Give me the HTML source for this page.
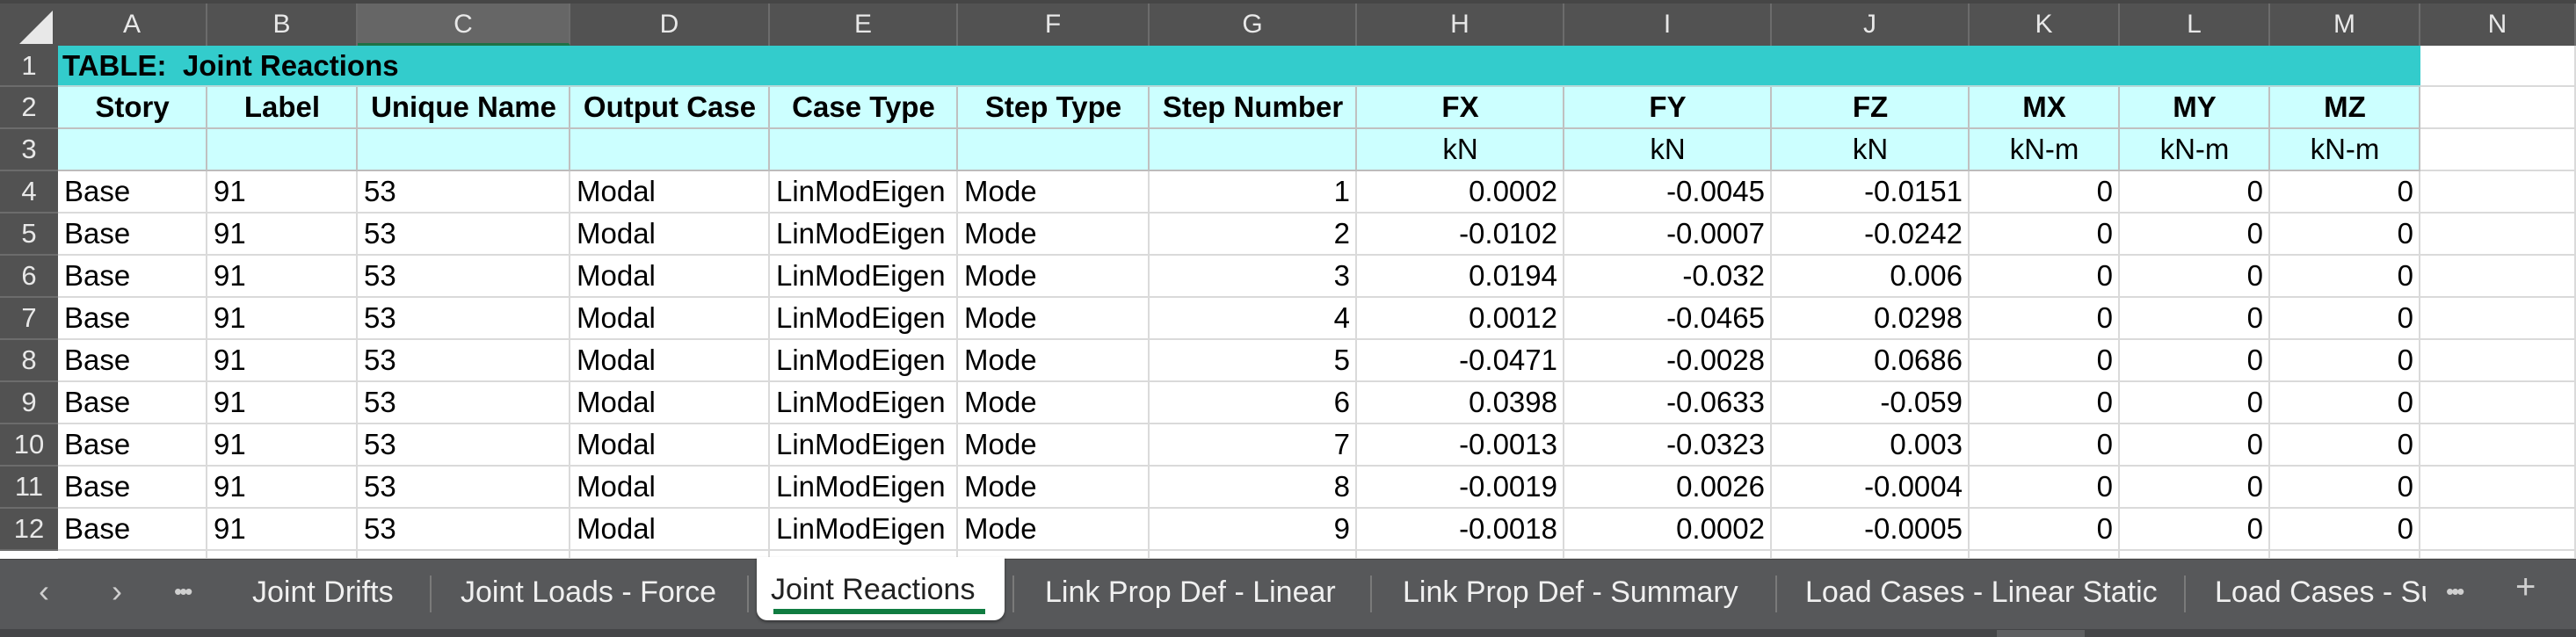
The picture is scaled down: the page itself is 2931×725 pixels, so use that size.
<!DOCTYPE html>
<html><head><meta charset="utf-8">
<style>
body{margin:0;width:2931px;height:725px;overflow:hidden;background:#fff;font-family:"Liberation Sans",sans-serif;position:relative}
.abs{position:absolute;box-sizing:border-box}
.cell{position:absolute;box-sizing:border-box;border-right:2px solid #dadada;border-bottom:2px solid #dadada;font-size:33px;line-height:46px;white-space:pre;overflow:hidden;padding:0 6px 0 7px;color:#000}
.colh{position:absolute;box-sizing:border-box;background:#525252;color:#e8e8e8;font-size:30px;text-align:center;line-height:48px;border-right:2px solid #6c6c6c;top:4px;height:48px}
.rowh{position:absolute;box-sizing:border-box;background:#525252;color:#e8e8e8;font-size:31px;text-align:center;left:0;width:66px;border-bottom:2px solid #6c6c6c;line-height:46px}
.tab{position:absolute;color:#f0f0f0;font-size:34px;top:655px;white-space:nowrap}
.sep{position:absolute;top:655px;width:2px;height:42px;background:#7a7a7a}
</style></head><body>
<div class="abs" style="left:0;top:0;width:2931px;height:4px;background:#464646"></div>
<div class="abs" style="left:0;top:4px;width:66px;height:48px;background:#525252">
<div style="position:absolute;left:22px;top:8px;width:0;height:0;border-left:38px solid transparent;border-bottom:38px solid #e8e8e8"></div></div>
<div id="grid"></div>
<div class="abs" style="left:0;top:636px;width:2931px;height:80px;background:#57585a;border-top:1px solid #444"></div>
<div class="abs" style="left:0;top:716px;width:2931px;height:9px;background:#444547"></div>
<div class="abs" style="left:2272px;top:717px;width:100px;height:8px;background:#5e5f61"></div>
<div class="tab" style="left:44px;top:652px;font-size:36px;color:#cfcfcf">&#x2039;</div>
<div class="tab" style="left:127px;top:652px;font-size:36px;color:#cfcfcf">&#x203A;</div>
<div class="tab" style="left:198px;top:658px;font-size:26px;color:#cfcfcf;letter-spacing:-3px">&#x2022;&#x2022;&#x2022;</div>
<div class="tab" style="left:287px">Joint Drifts</div>
<div class="sep" style="left:489px"></div>
<div class="tab" style="left:524px">Joint Loads - Force</div>
<div class="sep" style="left:850px"></div>
<div class="abs" style="left:861px;top:634px;width:282px;height:72px;background:#fff;border-radius:0 0 12px 12px;box-shadow:0 2px 3px rgba(0,0,0,.4)">
<div style="position:absolute;left:16px;top:18px;font-size:34px;color:#222;white-space:nowrap">Joint Reactions</div>
<div style="position:absolute;left:19px;top:59px;width:241px;height:6px;background:#107c41"></div></div>
<div class="sep" style="left:1152px"></div>
<div class="tab" style="left:1189px">Link Prop Def - Linear</div>
<div class="sep" style="left:1559px"></div>
<div class="tab" style="left:1596px">Link Prop Def - Summary</div>
<div class="sep" style="left:2020px"></div>
<div class="tab" style="left:2054px">Load Cases - Linear Static</div>
<div class="sep" style="left:2485px"></div>
<div class="tab" style="left:2520px;width:240px;overflow:hidden">Load Cases - Summary</div>
<div class="tab" style="left:2783px;top:658px;font-size:26px;color:#cfcfcf;letter-spacing:-3px">&#x2022;&#x2022;&#x2022;</div>
<div class="tab" style="left:2862px;top:646px;font-size:40px;color:#cfcfcf">+</div>
<script>
const colLetters=["A","B","C","D","E","F","G","H","I","J","K","L","M","N"];
const colX=[66,236,407,649,876,1090,1308,1544,1780,2016,2241,2412,2583,2754,2931];
const headers=["Story","Label","Unique Name","Output Case","Case Type","Step Type","Step Number","FX","FY","FZ","MX","MY","MZ"];
const units=["","","","","","","","kN","kN","kN","kN-m","kN-m","kN-m"];
const stepNums=[1,2,3,4,5,6,7,8,9];
const fx=["0.0002","-0.0102","0.0194","0.0012","-0.0471","0.0398","-0.0013","-0.0019","-0.0018"];
const fy=["-0.0045","-0.0007","-0.032","-0.0465","-0.0028","-0.0633","-0.0323","0.0026","0.0002"];
const fz=["-0.0151","-0.0242","0.006","0.0298","0.0686","-0.059","0.003","-0.0004","-0.0005"];
const rowY=[52,99,147,195,243,291,339,387,435,483,531,579,627];
const g=document.getElementById('grid');
function mk(cls,x,y,w,h,txt,name,inter){
  const d=document.createElement('div');d.className=cls;
  d.style.left=x+'px';d.style.top=y+'px';d.style.width=w+'px';d.style.height=h+'px';
  d.textContent=txt;
  
  
  g.appendChild(d);return d;
}
colLetters.forEach((c,i)=>{
  const d=mk('colh',colX[i],4,colX[i+1]-colX[i],48,c,'column-header-'+c.toLowerCase(),true);
  if(c==='C'){d.style.background='#666';d.style.borderBottom='3px solid #1e7145';}
});
for(let r=0;r<12;r++){
  mk('rowh',0,rowY[r],66,rowY[r+1]-rowY[r],String(r+1),'row-header-'+(r+1),true);
}
const t=mk('cell',66,52,colX[13]-66,47,'TABLE:  Joint Reactions','table-title',true);
t.style.background='#33cccc';t.style.fontWeight='bold';t.style.borderRight='none';t.style.borderBottom='2px solid #b8d8d8';t.style.padding='0 5px';
mk('cell',2754,52,177,47,'','cell-n1',true);
for(let i=0;i<13;i++){
  const w=colX[i+1]-colX[i];
  const h=mk('cell',colX[i],99,w,48,headers[i],'header-'+headers[i].toLowerCase().replace(/ /g,'-'),true);
  h.style.background='#ccffff';h.style.fontWeight='bold';h.style.textAlign='center';h.style.borderColor='#c0c0c0';
  const u=mk('cell',colX[i],147,w,48,units[i],'unit-'+colLetters[i].toLowerCase(),true);
  u.style.background='#ccffff';u.style.textAlign='center';u.style.borderColor='#c0c0c0';u.style.borderBottomColor='#bcbcbc';
}
mk('cell',2754,99,177,48,'','cell-n2',true);mk('cell',2754,147,177,48,'','cell-n3',true);
for(let r=0;r<stepNums.length;r++){
  const vals=["Base","91","53","Modal","LinModEigen","Mode",String(stepNums[r]),fx[r],fy[r],fz[r],"0","0","0",""];
  for(let i=0;i<14;i++){
    const d=mk('cell',colX[i],rowY[r+3],colX[i+1]-colX[i],48,vals[i],'cell-'+colLetters[i].toLowerCase()+(r+4),true);
    if(i>=6)d.style.textAlign='right';
  }
}
for(let i=0;i<14;i++){mk('cell',colX[i],627,colX[i+1]-colX[i],10,'','cell-'+colLetters[i].toLowerCase()+'13',true);}
</script>
</body></html>
